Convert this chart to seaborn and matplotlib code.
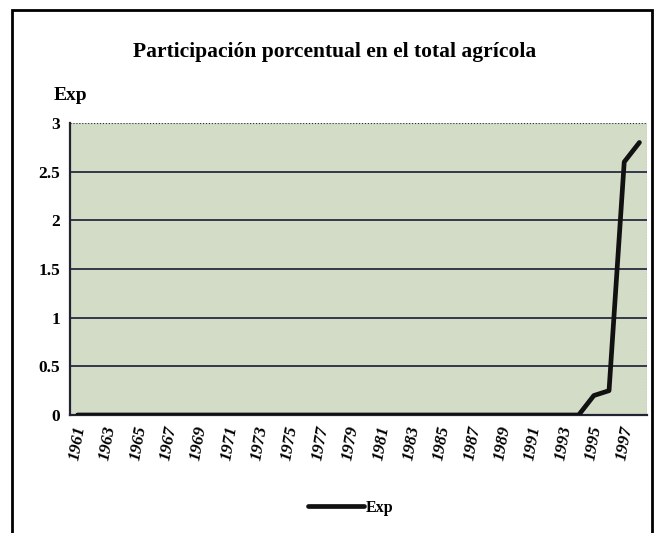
import matplotlib
matplotlib.use('Agg')
from matplotlib import pyplot as plt
from matplotlib.patches import Rectangle
import seaborn as sns
import pandas as pd
import numpy as np

years = list(range(1961, 1999))
exp_values = [0.0] * 33 + [0.0, 0.2, 0.25, 2.6, 2.8]  # 1961-1993 flat, then 1994-1998
tick_years = list(range(1961, 1998, 2))
y_ticks = [0, 0.5, 1, 1.5, 2, 2.5, 3]
y_ticklabels = ['0', '0.5', '1', '1.5', '2', '2.5', '3']

df = pd.DataFrame({'year': years, 'Exp': exp_values})

sns.set_style('white')
plt.rcParams['font.family'] = ['Liberation Serif', 'DejaVu Serif']
plt.rcParams['text.color'] = 'black'
plt.rcParams['xtick.color'] = 'black'
plt.rcParams['ytick.color'] = 'black'

fig = plt.figure(figsize=(6.57, 5.33), dpi=100)
ax = fig.add_axes([70 / 657, 1 - 415 / 533, 577 / 657, 292 / 533])
ax.set_facecolor('#d3dcc6')

for yv in y_ticks[1:]:
    ax.axhline(yv, color='#2a2a40', lw=1.3 if yv < 3 else 0.8,
               ls='-' if yv < 3 else ':', zorder=1)

sns.lineplot(data=df, x='year', y='Exp', color='#111111', lw=3.4, ax=ax,
             label='Exp', legend=False, zorder=3)

ax.set_xlim(1960.5, 1998.5)
ax.set_ylim(0, 3)
ax.set_xticks(tick_years)
ax.set_xticklabels([str(y) for y in tick_years], rotation=80, fontsize=12.5,
                   fontweight='bold', fontstyle='italic', ha='center', va='top')
ax.set_yticks(y_ticks)
ax.set_yticklabels(y_ticklabels, fontsize=12.5, fontweight='bold')
ax.tick_params(axis='y', length=4, width=1.2, color='#2a2a40', pad=3)
ax.tick_params(axis='x', length=0, pad=7)
ax.set_xlabel('')
ax.set_ylabel('')
for s in ['top', 'right']:
    ax.spines[s].set_visible(False)
for s in ['left', 'bottom']:
    ax.spines[s].set_color('#222233')
    ax.spines[s].set_linewidth(1.6)
ax.axvline(1998.5, color='#2a2a40', lw=0.8, ls=':')

fig.text(335 / 657, 1 - 52 / 533, 'Participación porcentual en el total agrícola',
         ha='center', va='center', fontsize=15.5, fontweight='bold')
fig.text(54 / 657, 1 - 95 / 533, 'Exp', ha='left', va='center',
         fontsize=14, fontweight='bold')

# legend
handles, labels = ax.get_legend_handles_labels()
fig.legend(handles, labels, loc='center', bbox_to_anchor=(351 / 657, 1 - 508 / 533),
           frameon=False, handlelength=3.5, handletextpad=0.1,
           prop={'weight': 'bold', 'size': 11.5})

# outer frame (bottom cut off)
fig.patches.append(Rectangle((12 / 657, -0.05), 640 / 657, 1.05 - 10 / 533,
                             transform=fig.transFigure, fill=False,
                             lw=2, ec='black'))

fig.savefig('out.png', dpi=100)
